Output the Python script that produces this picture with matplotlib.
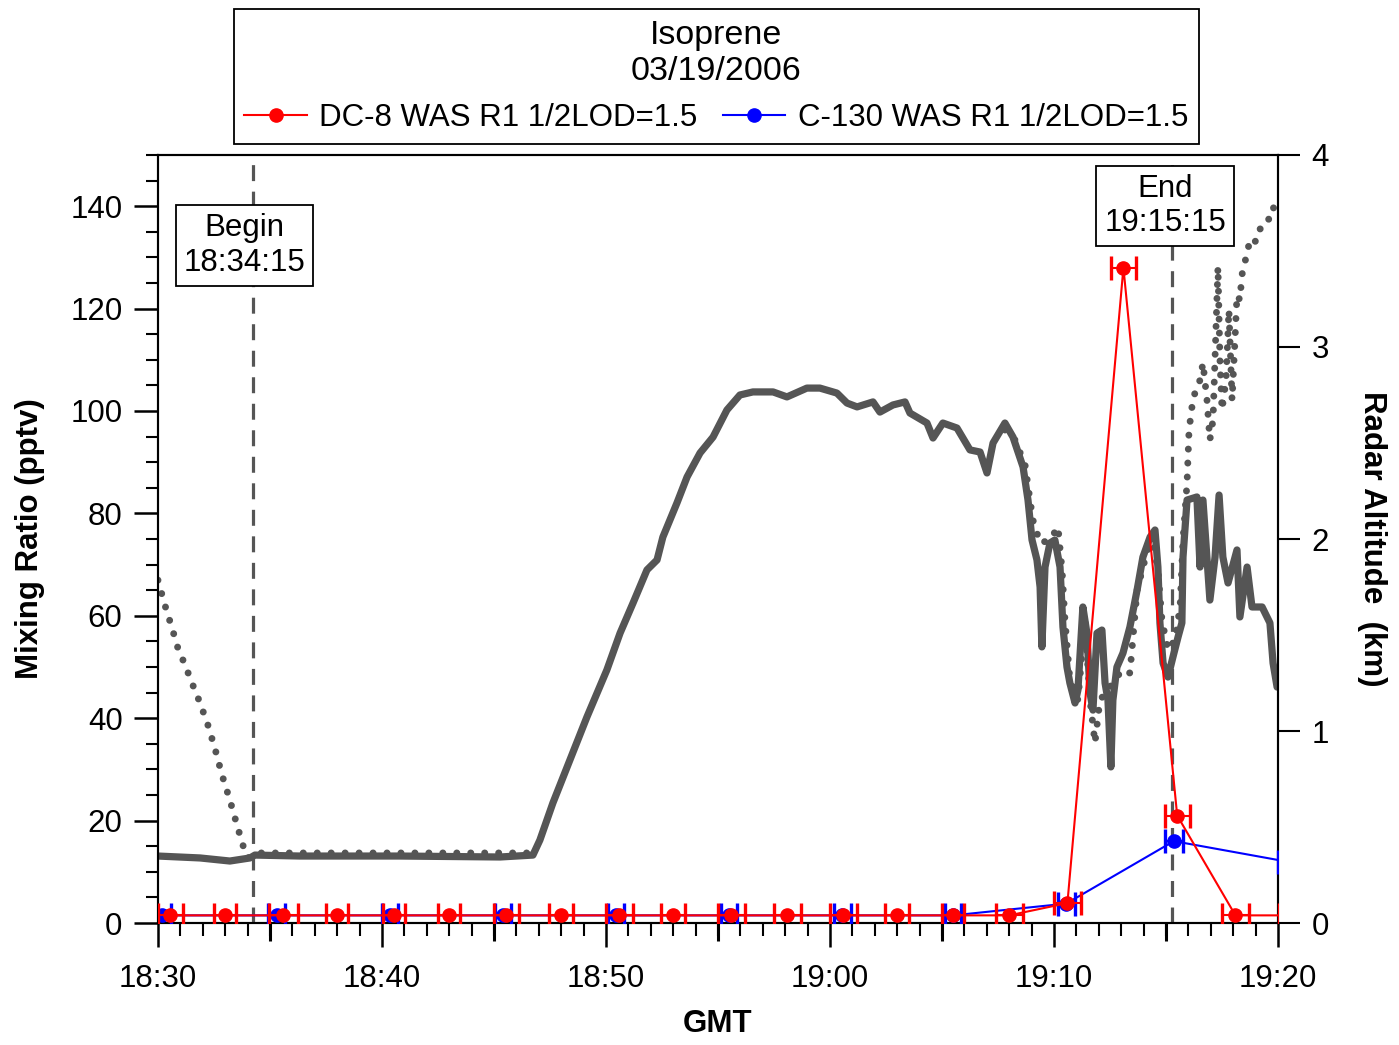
import matplotlib
matplotlib.use("Agg")
import matplotlib.pyplot as plt
import numpy as np
from matplotlib.lines import Line2D
from matplotlib.ticker import MultipleLocator, FuncFormatter, FixedLocator

plt.rcParams["font.family"] = ["Liberation Sans", "DejaVu Sans"]

# time in minutes after 18:00 GMT
dc8_time = [30.55, 33.0, 35.6, 38.0, 40.55, 43.0, 45.55, 48.0, 50.6, 53.0, 55.6,
            58.1, 60.6, 63.0, 65.5, 68.0, 70.6, 73.1, 75.5, 78.1, 80.6]
dc8_value = [1.5, 1.5, 1.5, 1.5, 1.5, 1.5, 1.5, 1.5, 1.5, 1.5, 1.5,
             1.5, 1.5, 1.5, 1.5, 1.5, 3.9, 128.0, 21.0, 1.5, 1.5]
dc8_xerr = [0.55, 0.5, 0.65, 0.5, 0.5, 0.5, 0.55, 0.55, 0.6, 0.55, 0.6,
            0.6, 0.6, 0.55, 0.5, 0.6, 0.6, 0.55, 0.55, 0.6, 0.55]

c130_time = [30.2, 35.3, 40.35, 45.4, 50.45, 55.5, 60.55, 65.5, 70.55, 75.35, 80.4]
c130_value = [1.5, 1.5, 1.5, 1.5, 1.5, 1.5, 1.5, 1.5, 3.8, 16.0, 12.0]
c130_xerr = [0.37, 0.37, 0.37, 0.37, 0.37, 0.37, 0.37, 0.37, 0.37, 0.4, 0.4]

# radar altitude (km), dense record
alt_time = [30.0, 31.88, 33.21, 34.11, 34.33, 36.34, 40.8, 45.27, 46.74, 47.05,
            47.63, 48.39, 49.15, 50.04, 50.63, 51.21, 51.83, 52.28, 52.54, 53.17,
            53.62, 54.2, 54.78, 55.4, 55.98, 56.56, 57.46, 58.08, 58.97, 59.55,
            60.31, 60.76, 61.21, 61.92, 62.23, 62.81, 63.35, 63.57, 64.33, 64.6,
            65.04, 65.67, 66.25, 66.7, 67.01, 67.28, 67.81, 68.17, 68.62, 68.84,
            69.02, 69.24, 69.38, 69.46, 69.6, 69.82, 70.04, 70.27, 70.4, 70.58,
            70.71, 70.94, 71.07, 71.29, 71.47, 71.61, 71.74, 71.92, 72.14, 72.28,
            72.41, 72.54, 72.63, 72.81, 73.08, 73.39, 73.71, 73.97, 74.29, 74.51,
            74.64, 74.73, 74.87, 75.09, 75.31, 75.54, 75.71, 75.76, 75.94, 76.38,
            76.52, 76.65, 76.96, 77.19, 77.37, 77.54, 77.77, 78.17, 78.3, 78.62,
            78.84, 79.29, 79.64, 79.78, 79.96]
alt_km = [0.349, 0.339, 0.323, 0.339, 0.354, 0.349, 0.349, 0.344, 0.354, 0.432,
          0.625, 0.849, 1.073, 1.318, 1.51, 1.667, 1.839, 1.891, 2.01, 2.188,
          2.323, 2.448, 2.531, 2.672, 2.75, 2.766, 2.766, 2.74, 2.786, 2.786,
          2.76, 2.708, 2.688, 2.714, 2.661, 2.698, 2.714, 2.656, 2.604, 2.526,
          2.604, 2.578, 2.464, 2.453, 2.344, 2.5, 2.604, 2.531, 2.375, 2.203,
          1.995, 1.891, 1.75, 1.438, 1.854, 1.979, 1.995, 1.854, 1.542, 1.333,
          1.25, 1.146, 1.214, 1.646, 1.51, 1.198, 1.109, 1.51, 1.526, 1.25,
          1.161, 0.813, 1.161, 1.333, 1.406, 1.542, 1.734, 1.906, 2.01, 2.047,
          1.854, 1.563, 1.354, 1.281, 1.385, 1.49, 1.563, 1.906, 2.203, 2.219,
          1.854, 2.203, 1.682, 1.906, 2.229, 1.906, 1.771, 1.943, 1.594, 1.854,
          1.646, 1.646, 1.563, 1.354, 1.229]

# second, sparse altitude record (NaN = gap where it sits under the dense one)
alt2_time = [30.0, 30.31, 30.63, 30.89, 31.21, 31.52, 31.88, 32.23, 32.54, 32.86,
             33.21, 33.53, 33.79, 34.02, 34.4, 40.0, 46.6, np.nan,
             67.81, 68.26, 68.71, 68.93, 69.06, 69.38, 69.82, 70.18, 70.36, 70.49,
             70.71, 71.07, 71.38, 71.61, 71.83, 72.05, 72.41, 72.72, 73.04, 73.39,
             73.71, 74.06, 74.38, 74.64, 74.82, 75.09, 75.4, 75.63, 75.76, 75.94,
             76.03, 76.21, 76.38, 76.52, 76.65, 76.83, 76.96, 77.1, 77.23, 77.32,
             77.41, 77.5, 77.68, 77.81, 77.95, 78.08, 78.17, 78.3, 78.39, 78.62,
             78.75, 78.97, 79.11, 79.29, 79.51, 79.64, 79.78, 79.96]
alt2_km = [1.786, 1.656, 1.536, 1.432, 1.344, 1.25, 1.146, 1.031, 0.911, 0.771,
           0.641, 0.51, 0.406, 0.339, 0.365, 0.365, 0.365, np.nan,
           2.568, 2.516, 2.385, 2.203, 2.099, 1.979, 1.995, 2.063, 1.839, 1.578,
           1.266, 1.161, 1.578, 1.161, 0.938, 1.161, 1.214, 1.266, 1.318, 1.302,
           1.734, 1.891, 2.021, 1.839, 1.578, 1.422, 1.474, 1.646, 1.995, 2.292,
           2.568, 2.734, 2.786, 2.828, 2.917, 2.724, 2.516, 2.62, 3.089, 3.417,
           2.932, 2.672, 2.828, 3.193, 2.724, 3.036, 3.271, 3.245, 3.375, 3.49,
           3.557, 3.542, 3.609, 3.62, 3.635, 3.688, 3.729, 3.688]

begin_time = 34.25   # 18:34:15
end_time = 75.25     # 19:15:15

gray = "#555555"

fig = plt.figure(figsize=(13.99, 10.45), dpi=100)
ax = fig.add_axes([0.1129, 0.1167, 0.8006, 0.7350])
ax2 = ax.twinx()

# altitude traces on the right axis, drawn underneath
ax2.plot(alt2_time, alt2_km, color=gray, lw=5.0, linestyle=(0, (0.01, 2.0)),
         dash_capstyle="round")
ax2.plot(alt_time, alt_km, color=gray, lw=5.2, solid_capstyle="round",
         solid_joinstyle="round")
ax2.set_ylim(0, 4)
ax2.set_yticks([0, 1, 2, 3, 4])
ax2.tick_params(axis="y", direction="out", length=16, width=1.5, pad=8, labelsize=22.5)
ax2.set_ylabel("Radar Altitude  (km)", fontsize=22.5, fontweight="bold",
               rotation=-90, labelpad=42)

ax.set_zorder(ax2.get_zorder() + 1)
ax.patch.set_visible(False)

ax.errorbar(c130_time, c130_value, xerr=c130_xerr, fmt="o-", color="blue",
            ms=9.5, lw=1.5, elinewidth=1.5, capsize=8.5, capthick=2.4, zorder=3)
ax.errorbar(dc8_time, dc8_value, xerr=dc8_xerr, fmt="o-", color="red",
            ms=9.5, lw=1.5, elinewidth=1.5, capsize=8.5, capthick=2.4, zorder=4)

for t in (begin_time, end_time):
    ax.axvline(t, color=gray, lw=2.3, linestyle=(0, (5, 3.3)), zorder=2)

box = dict(boxstyle="square,pad=0.25", fc="white", ec="black", lw=1.3)
ax.text(33.86, 132.3, "Begin\n18:34:15", ha="center", va="center", fontsize=22.5,
        bbox=box, zorder=6, linespacing=1.2)
ax.text(74.96, 140.0, "End\n19:15:15", ha="center", va="center", fontsize=22.5,
        bbox=box, zorder=6, linespacing=1.2)

ax.set_xlim(30, 80)
ax.set_ylim(0, 150)
ax.xaxis.set_major_locator(MultipleLocator(10))
ax.xaxis.set_minor_locator(MultipleLocator(1))
ax.xaxis.set_major_formatter(FuncFormatter(
    lambda v, p: f"{18 + int(v // 60)}:{int(v % 60):02d}"))
ax.yaxis.set_major_locator(FixedLocator([0, 20, 40, 60, 80, 100, 120, 140]))
ax.yaxis.set_minor_locator(MultipleLocator(5))
ax.tick_params(axis="both", which="major", direction="out", length=17.5, width=1.8,
               pad=8, labelsize=22.5)
ax.tick_params(axis="both", which="minor", direction="out", length=9, width=1.5)
ax.tick_params(axis="x", which="major", pad=12)
ax.tick_params(axis="x", which="both", top=False)
ax.tick_params(axis="y", which="both", right=False)

sec = ax.secondary_xaxis("bottom")
sec.set_xticks([35, 45, 55, 65, 75])
sec.tick_params(axis="x", direction="out", length=13, width=2.2, labelbottom=False)
sec.spines["bottom"].set_visible(False)

for a in (ax, ax2):
    for s in a.spines.values():
        s.set_linewidth(1.5)

ax.set_xlabel("GMT", fontsize=22.5, fontweight="bold", labelpad=11)
ax.set_ylabel("Mixing Ratio (pptv)", fontsize=22.5, fontweight="bold", labelpad=18)

handles = [
    Line2D([], [], color="red", marker="o", ms=9.5, lw=1.5),
    Line2D([], [], color="blue", marker="o", ms=9.5, lw=1.5),
]
leg = fig.legend(handles, ["DC-8 WAS R1 1/2LOD=1.5", "C-130 WAS R1 1/2LOD=1.5"],
                 loc="upper center", bbox_to_anchor=(0.512, 0.991), ncol=2,
                 fontsize=22.5, title="Isoprene\n03/19/2006", title_fontsize=24.5,
                 fancybox=False, framealpha=1, edgecolor="black",
                 handlelength=2.0, handletextpad=0.4, columnspacing=0.8,
                 borderpad=0.35, borderaxespad=0)
leg.get_frame().set_linewidth(1.3)
leg.get_title().set_multialignment("center")

fig.savefig("out.png", dpi=100)
